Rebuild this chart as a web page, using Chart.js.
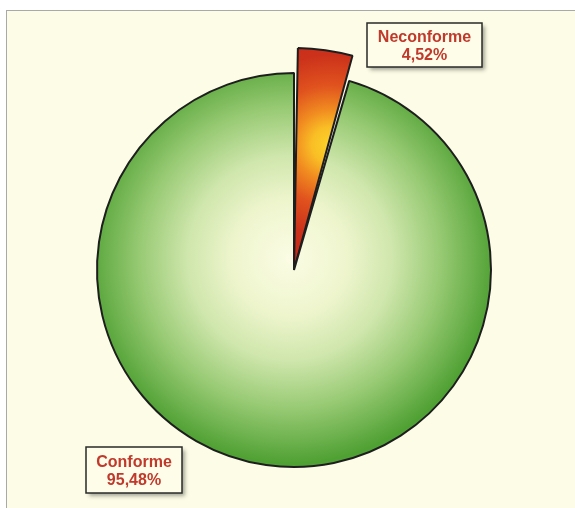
<!DOCTYPE html>
<html>
<head>
<meta charset="utf-8">
<script src="https://cdn.jsdelivr.net/npm/chart.js@4.4.1/dist/chart.umd.min.js"></script>
<style>
  html, body { margin:0; padding:0; background:#ffffff; width:575px; height:508px; overflow:hidden; }
  #frame { position:absolute; left:6px; top:10px; width:620px; height:560px;
           background:#fdfde7; border-left:1.5px solid #a9a9a9; border-top:1.5px solid #a9a9a9; }
  #wrap { position:absolute; left:0; top:0; width:575px; height:508px; }
</style>
</head>
<body>
<div id="frame"></div>
<div id="wrap"><canvas id="c" width="575" height="508"></canvas></div>
<script>
const categories = ["Neconforme", "Conforme"];
const percentValues = [4.52, 95.48];
const percentLabels = ["4,52%", "95,48%"];

// label box placement (style only)
const boxStyle = [
  { x: 367, y: 23, w: 115, h: 44 },
  { x: 86,  y: 447, w: 96, h: 46 }
];

function greenFill(chart) {
  const a = chart.chartArea;
  const cx = (a.left + a.right) / 2 - 4, cy = (a.top + a.bottom) / 2 - 12;
  const g = chart.ctx.createRadialGradient(cx, cy, 0, cx, cy, 205);
  g.addColorStop(0, '#fbfce4');
  g.addColorStop(0.28, '#eef5cd');
  g.addColorStop(0.5, '#cfe6ac');
  g.addColorStop(0.74, '#96c972');
  g.addColorStop(1, '#50a134');
  return g;
}
function redFill(chart) {
  const a = chart.chartArea;
  const cx = (a.left + a.right) / 2, cy = (a.top + a.bottom) / 2;
  const gx = cx + 36, gy = cy - 125;
  const g = chart.ctx.createRadialGradient(gx, gy, 0, gx, gy, 120);
  g.addColorStop(0, '#fcd42a');
  g.addColorStop(0.15, '#f9be25');
  g.addColorStop(0.3, '#f08a20');
  g.addColorStop(0.5, '#e0521e');
  g.addColorStop(0.75, '#cc321b');
  g.addColorStop(1, '#c4281a');
  return g;
}
function sliceFill(ctx) {
  const chart = ctx.chart;
  if (!chart.chartArea) return ctx.dataIndex === 0 ? '#e0561e' : '#7fbb5a';
  return ctx.dataIndex === 0 ? redFill(chart) : greenFill(chart);
}

const sliceTweak = {
  id: 'sliceTweak',
  afterDatasetsUpdate(chart) {
    const arc = chart.getDatasetMeta(0).data[0];
    const d = Math.PI / 180;
    arc.outerRadius = arc.outerRadius + 25;
    arc.startAngle += 1.0 * d;
    arc.endAngle -= 1.0 * d;
  }
};

const labelBoxes = {
  id: 'labelBoxes',
  afterDatasetsDraw(chart) {
    const c = chart.ctx;
    categories.forEach((name, i) => {
      const b = boxStyle[i];
      c.save();
      c.shadowColor = 'rgba(0,0,0,0.35)';
      c.shadowBlur = 4;
      c.shadowOffsetX = 3;
      c.shadowOffsetY = 3;
      c.fillStyle = '#fdfde9';
      c.fillRect(b.x, b.y, b.w, b.h);
      c.restore();
      c.save();
      c.strokeStyle = '#2a2a2a';
      c.lineWidth = 1.5;
      c.strokeRect(b.x, b.y, b.w, b.h);
      c.fillStyle = '#c0392b';
      c.font = 'bold 16px "Liberation Sans", Arial, sans-serif';
      c.textAlign = 'center';
      c.textBaseline = 'middle';
      const mx = b.x + b.w / 2;
      c.fillText(name, mx, b.y + b.h * 0.34);
      c.fillText(percentLabels[i], mx, b.y + b.h * 0.74);
      c.restore();
    });
  }
};

new Chart(document.getElementById('c'), {
  type: 'pie',
  data: {
    labels: categories,
    datasets: [{
      data: percentValues,
      backgroundColor: sliceFill,
      borderColor: '#1e1e1e',
      borderWidth: 2,
      radius: 197
    }]
  },
  options: {
    responsive: false,
    animation: false,
    events: [],
    layout: { padding: { left: 13, right: 0, top: 32, bottom: 0 } },
    plugins: { legend: { display: false }, tooltip: { enabled: false } }
  },
  plugins: [sliceTweak, labelBoxes]
});
</script>
</body>
</html>
